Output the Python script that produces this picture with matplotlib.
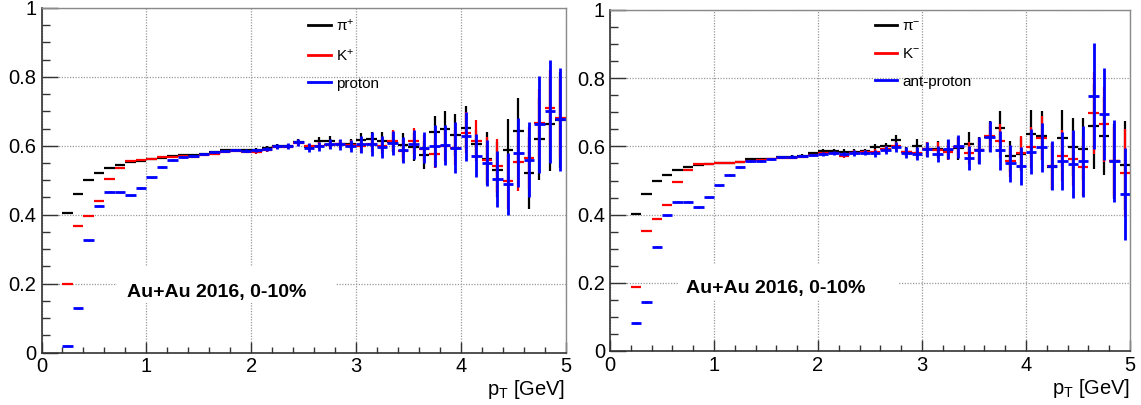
import matplotlib
matplotlib.use('Agg')
import matplotlib.pyplot as plt
from matplotlib.ticker import MultipleLocator, FuncFormatter
from matplotlib.lines import Line2D
from matplotlib.patches import Rectangle

plt.rcParams['font.family'] = ['Liberation Sans', 'DejaVu Sans']
plt.rcParams['mathtext.fontset'] = 'custom'
plt.rcParams['mathtext.rm'] = 'Liberation Sans'
plt.rcParams['mathtext.it'] = 'Liberation Sans:italic'
plt.rcParams['mathtext.bf'] = 'Liberation Sans:bold'

# ---------------- data ----------------
pt = [0.25, 0.35, 0.45, 0.55, 0.65, 0.75, 0.85, 0.95, 1.05, 1.15,
      1.25, 1.35, 1.45, 1.55, 1.65, 1.75, 1.85, 1.95, 2.05, 2.15,
      2.25, 2.35, 2.45, 2.55, 2.65, 2.75, 2.85, 2.95, 3.05, 3.15,
      3.25, 3.35, 3.45, 3.55, 3.65, 3.75, 3.85, 3.95, 4.05, 4.15,
      4.25, 4.35, 4.45, 4.55, 4.65, 4.75, 4.85, 4.95]
bin_half_width = 0.05

# left panel (positive particles)
pip = [0.404, 0.460, 0.500, 0.520, 0.535, 0.544, 0.554, 0.557, 0.561, 0.565,
       0.569, 0.572, 0.573, 0.576, 0.581, 0.587, 0.588, 0.588, 0.588, 0.594,
       0.599, 0.600, 0.612, 0.597, 0.615, 0.615, 0.606, 0.605, 0.616, 0.619,
       0.614, 0.611, 0.601, 0.597, 0.573, 0.640, 0.648, 0.631, 0.653, 0.606,
       0.563, 0.530, 0.587, 0.643, 0.521, 0.620, 0.662, 0.675]
pip_err = [0.002, 0.002, 0.002, 0.002, 0.002, 0.002, 0.002, 0.002, 0.002, 0.002,
           0.003, 0.003, 0.003, 0.003, 0.003, 0.004, 0.004, 0.004, 0.005, 0.005,
           0.006, 0.006, 0.008, 0.008, 0.010, 0.012, 0.012, 0.014, 0.020, 0.022,
           0.026, 0.030, 0.036, 0.040, 0.040, 0.046, 0.053, 0.060, 0.063, 0.040,
           0.078, 0.080, 0.090, 0.095, 0.105, 0.120, 0.136, 0.140]
kp = [0.199, 0.366, 0.396, 0.440, 0.503, 0.535, 0.555, 0.558, 0.563, 0.567,
      0.568, 0.570, 0.567, 0.572, 0.575, 0.582, 0.585, 0.583, 0.582, 0.588,
      0.596, 0.597, 0.608, 0.598, 0.600, 0.603, 0.605, 0.603, 0.598, 0.605,
      0.600, 0.615, 0.585, 0.615, 0.592, 0.576, 0.600, 0.595, 0.638, 0.615,
      0.560, 0.542, 0.497, 0.554, 0.565, 0.665, 0.711, 0.680]
kp_err = [0.002, 0.002, 0.002, 0.002, 0.002, 0.002, 0.002, 0.002, 0.002, 0.002,
          0.003, 0.003, 0.003, 0.003, 0.003, 0.004, 0.004, 0.004, 0.005, 0.005,
          0.006, 0.006, 0.008, 0.008, 0.010, 0.012, 0.012, 0.014, 0.018, 0.022,
          0.025, 0.030, 0.033, 0.038, 0.040, 0.040, 0.045, 0.050, 0.060, 0.060,
          0.065, 0.077, 0.080, 0.085, 0.090, 0.100, 0.110, 0.115]
prot = [0.020, 0.128, 0.326, 0.426, 0.467, 0.465, 0.456, 0.478, 0.508, 0.538,
        0.558, 0.568, 0.570, 0.577, 0.582, 0.585, 0.588, 0.586, 0.587, 0.590,
        0.598, 0.600, 0.610, 0.595, 0.598, 0.605, 0.605, 0.600, 0.604, 0.605,
        0.597, 0.607, 0.587, 0.605, 0.595, 0.599, 0.601, 0.595, 0.627, 0.571,
        0.550, 0.503, 0.488, 0.580, 0.560, 0.662, 0.700, 0.677]
prot_err = [0.002, 0.002, 0.002, 0.002, 0.002, 0.002, 0.002, 0.002, 0.002, 0.002,
            0.003, 0.003, 0.003, 0.003, 0.003, 0.004, 0.004, 0.004, 0.005, 0.006,
            0.007, 0.008, 0.010, 0.012, 0.013, 0.015, 0.016, 0.018, 0.024, 0.034,
            0.031, 0.035, 0.038, 0.042, 0.045, 0.060, 0.058, 0.075, 0.070, 0.062,
            0.068, 0.082, 0.090, 0.100, 0.110, 0.140, 0.150, 0.150]

# right panel (negative particles)
pim = [0.401, 0.459, 0.498, 0.517, 0.530, 0.540, 0.546, 0.548, 0.551, 0.552,
       0.554, 0.563, 0.563, 0.564, 0.568, 0.570, 0.573, 0.580, 0.586, 0.587,
       0.585, 0.585, 0.586, 0.598, 0.600, 0.619, 0.585, 0.602, 0.592, 0.592,
       0.590, 0.595, 0.608, 0.588, 0.629, 0.653, 0.571, 0.579, 0.636, 0.631,
       0.541, 0.624, 0.598, 0.592, 0.659, 0.631, 0.556, 0.544]
pim_err = [0.002, 0.002, 0.002, 0.002, 0.002, 0.002, 0.002, 0.002, 0.002, 0.002,
           0.003, 0.003, 0.003, 0.003, 0.003, 0.004, 0.004, 0.004, 0.005, 0.005,
           0.006, 0.006, 0.006, 0.008, 0.010, 0.015, 0.012, 0.020, 0.022, 0.025,
           0.028, 0.034, 0.035, 0.040, 0.045, 0.050, 0.045, 0.050, 0.070, 0.072,
           0.070, 0.083, 0.084, 0.090, 0.125, 0.115, 0.110, 0.130]
km = [0.187, 0.351, 0.387, 0.429, 0.495, 0.530, 0.547, 0.549, 0.550, 0.552,
      0.555, 0.557, 0.560, 0.562, 0.565, 0.567, 0.570, 0.575, 0.580, 0.580,
      0.573, 0.582, 0.583, 0.583, 0.592, 0.602, 0.583, 0.580, 0.592, 0.590,
      0.585, 0.598, 0.580, 0.590, 0.630, 0.615, 0.556, 0.580, 0.598, 0.624,
      0.543, 0.573, 0.564, 0.540, 0.698, 0.665, 0.556, 0.522]
km_err = [0.002, 0.002, 0.002, 0.002, 0.002, 0.002, 0.002, 0.002, 0.002, 0.002,
          0.003, 0.003, 0.003, 0.003, 0.003, 0.004, 0.004, 0.004, 0.005, 0.005,
          0.006, 0.006, 0.006, 0.008, 0.010, 0.012, 0.012, 0.016, 0.020, 0.022,
          0.026, 0.030, 0.032, 0.036, 0.040, 0.050, 0.045, 0.050, 0.060, 0.065,
          0.068, 0.075, 0.080, 0.085, 0.120, 0.110, 0.100, 0.130]
pbar = [0.082, 0.144, 0.306, 0.398, 0.438, 0.438, 0.422, 0.451, 0.486, 0.516,
        0.539, 0.556, 0.558, 0.562, 0.568, 0.570, 0.572, 0.575, 0.578, 0.580,
        0.578, 0.580, 0.582, 0.580, 0.590, 0.598, 0.582, 0.579, 0.592, 0.578,
        0.592, 0.600, 0.566, 0.588, 0.629, 0.588, 0.551, 0.543, 0.585, 0.598,
        0.543, 0.556, 0.549, 0.556, 0.748, 0.695, 0.556, 0.460]
pbar_err = [0.002, 0.002, 0.002, 0.002, 0.002, 0.002, 0.002, 0.002, 0.002, 0.002,
            0.003, 0.003, 0.003, 0.003, 0.003, 0.004, 0.004, 0.004, 0.005, 0.006,
            0.007, 0.008, 0.008, 0.010, 0.012, 0.015, 0.015, 0.018, 0.022, 0.024,
            0.030, 0.034, 0.035, 0.040, 0.046, 0.058, 0.054, 0.056, 0.067, 0.072,
            0.072, 0.085, 0.100, 0.105, 0.155, 0.135, 0.120, 0.135]

labels_pos = ['\u03c0$^{+}$', 'K$^{+}$', 'proton']
labels_neg = ['\u03c0$^{-}$', 'K$^{-}$', 'ant-proton']
annotation = 'Au+Au 2016, 0-10%'
xlabel = 'p$_{\\mathrm{T}}$ [GeV]'
colors = ['#000000', '#ff0000', '#0000ff']

# ---------------- figure ----------------
fig = plt.figure(figsize=(11.41, 4.05), dpi=100)
ax1 = fig.add_axes([41.5 / 1141, 52.5 / 405, 524 / 1141, 344.5 / 405])
ax2 = fig.add_axes([610 / 1141, 54 / 405, 520 / 1141, 341 / 405])


def yfmt(v, _):
    if abs(v) < 1e-9:
        return '0'
    if abs(v - 1) < 1e-9:
        return '1'
    return '%.1f' % v


def style(ax):
    ax.set_xlim(0, 5)
    ax.set_ylim(0, 1)
    ax.set_axisbelow(True)
    ax.xaxis.set_major_locator(MultipleLocator(1))
    ax.xaxis.set_minor_locator(MultipleLocator(0.2))
    ax.yaxis.set_major_locator(MultipleLocator(0.2))
    ax.yaxis.set_minor_locator(MultipleLocator(0.05))
    ax.yaxis.set_major_formatter(FuncFormatter(yfmt))
    ax.tick_params(which='both', direction='in', top=False, right=False,
                   labelsize=14.5, color='#333333')
    ax.tick_params(axis='x', which='major', length=7.9, width=1.0, pad=3.6)
    ax.tick_params(axis='x', which='minor', length=4.0, width=1.0)
    ax.tick_params(axis='y', which='major', length=11.3, width=1.0, pad=3.6)
    ax.tick_params(axis='y', which='minor', length=5.6, width=1.0)
    ax.grid(which='major', color='#9a9a9a', linestyle=(0, (1, 1.2)), linewidth=0.9)
    for s in ['left', 'bottom']:
        ax.spines[s].set_color('#333333')
        ax.spines[s].set_linewidth(1.2)
    for s in ['top', 'right']:
        ax.spines[s].set_color('#8a8a8a')
        ax.spines[s].set_linewidth(1.0)
    ax.set_xlabel(xlabel, fontsize=14.5, loc='right')
    ax.xaxis.set_label_coords(1.0, -0.075)


def draw(ax, series, errs, labels, text_xy, box):
    style(ax)
    for vals, err, col in zip(series, errs, colors):
        lw = 2.0 if col == '#0000ff' else 1.6
        ax.errorbar(pt, vals, yerr=err, xerr=bin_half_width, fmt='none',
                    ecolor=col, elinewidth=lw, capsize=0)
    ax.add_patch(Rectangle((box[0], box[1]), box[2] - box[0], box[3] - box[1],
                           facecolor='white', edgecolor='none', zorder=1))
    ax.text(text_xy[0], text_xy[1], annotation, fontsize=14, fontweight='bold',
            ha='left', va='center', zorder=5)
    handles = [Line2D([], [], color=c, lw=2.0) for c in colors]
    ax.legend(handles, labels, loc='upper left', bbox_to_anchor=(0.509, 0.972),
              frameon=False, fontsize=11, handlelength=1.48, handletextpad=0.33,
              labelspacing=0.89, borderpad=0, borderaxespad=0)


draw(ax1, [pip, kp, prot], [pip_err, kp_err, prot_err], labels_pos,
     (0.813, 0.174), (0.717, 0.143, 2.81, 0.249))
draw(ax2, [pim, km, pbar], [pim_err, km_err, pbar_err], labels_neg,
     (0.729, 0.184), (0.66, 0.150, 2.78, 0.255))

fig.savefig('out.png', dpi=100)
